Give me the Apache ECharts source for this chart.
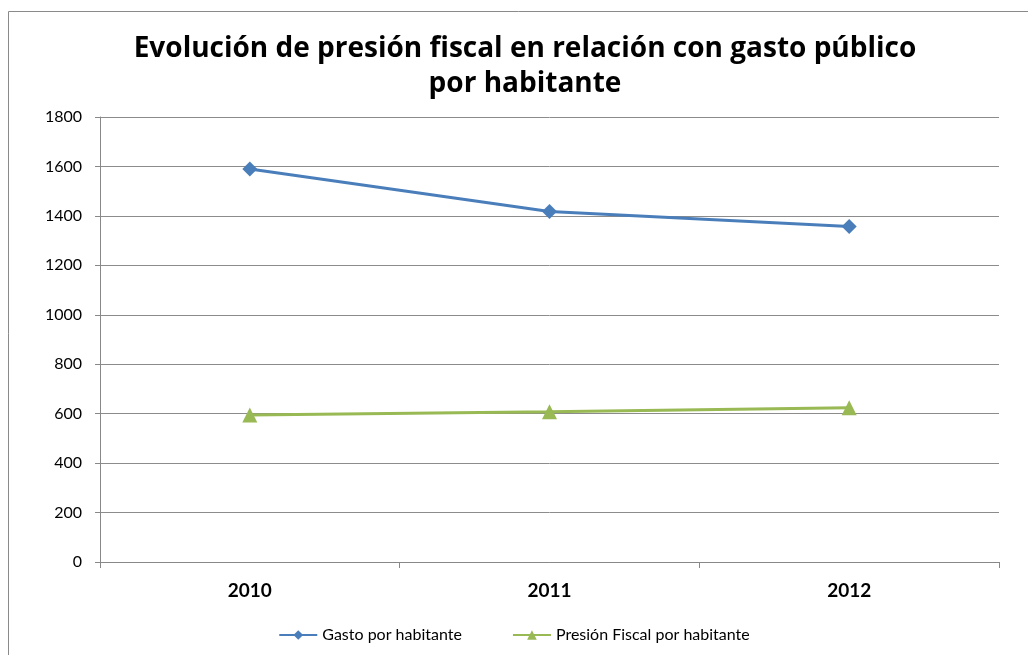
<!DOCTYPE html>
<html>
<head>
<meta charset="utf-8">
<script src="https://cdn.jsdelivr.net/npm/echarts@6/dist/echarts.min.js"></script>
<style>
  html, body { margin: 0; padding: 0; background: #fff; }
  #chart { width: 1028px; height: 655px; }
</style>
</head>
<body>
<div id="chart"></div>
<script>
const years = ['2010', '2011', '2012']
const gasto = [1590, 1418, 1357]
const presion = [595, 608, 624]
const yTicks = { min: 0, max: 1800, interval: 200 }

const chart = echarts.init(document.getElementById('chart'))

const option = {
  animation: false,
  title: {
    text: 'Evolución de presión fiscal en relación con gasto público\npor habitante',
    left: 520,
    top: 27,
    textAlign: 'center',
    textStyle: {
      fontFamily: 'Open Sans',
      fontWeight: 'bold',
      fontSize: 28,
      lineHeight: 35,
      color: '#000'
    }
  },
  graphic: [
    {
      type: 'rect',
      shape: { x: 8.5, y: 11.5, width: 1100, height: 700 },
      style: { fill: 'none', stroke: '#8a8a8a', lineWidth: 1 },
      silent: true
    }
  ],
  legend: {
    bottom: 7,
    left: 'center',
    itemWidth: 38,
    itemHeight: 12,
    itemGap: 50,
    textStyle: { fontFamily: 'Lato', fontSize: 16, color: '#000' },
    data: ['Gasto por habitante', 'Presión Fiscal por habitante']
  },
  grid: { left: 100, right: 29, top: 117, bottom: 93 },
  xAxis: {
    type: 'category',
    data: years,
    boundaryGap: true,
    axisLine: { lineStyle: { color: '#888', width: 1 } },
    axisTick: { show: true, length: 6, lineStyle: { color: '#888' } },
    axisLabel: {
      margin: 19,
      fontFamily: 'Lato',
      fontWeight: 'bold',
      fontSize: 19,
      color: '#000'
    }
  },
  yAxis: {
    type: 'value',
    min: yTicks.min,
    max: yTicks.max,
    interval: yTicks.interval,
    axisLine: { show: true, lineStyle: { color: '#888', width: 1 } },
    axisTick: { show: true, length: 5, lineStyle: { color: '#888' } },
    splitLine: { lineStyle: { color: '#8c8c8c', width: 1 } },
    axisLabel: {
      margin: 18,
      fontFamily: 'Lato',
      fontSize: 16,
      color: '#000',
      formatter: v => String(v)
    }
  },
  series: [
    {
      name: 'Gasto por habitante',
      type: 'line',
      data: gasto,
      symbol: 'diamond',
      symbolSize: 15,
      lineStyle: { color: '#4a7ebb', width: 3 },
      itemStyle: { color: '#4a7ebb' }
    },
    {
      name: 'Presión Fiscal por habitante',
      type: 'line',
      data: presion,
      symbol: 'triangle',
      symbolSize: 15,
      lineStyle: { color: '#98b954', width: 3 },
      itemStyle: { color: '#98b954' }
    }
  ]
}

chart.setOption(option)
</script>
</body>
</html>
